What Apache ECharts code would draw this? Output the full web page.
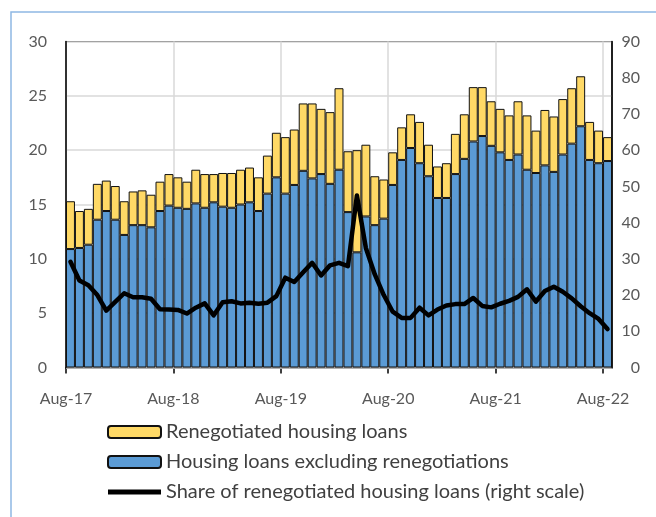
<!DOCTYPE html>
<html>
<head>
<meta charset="utf-8">
<script src="https://cdn.jsdelivr.net/npm/echarts@6/dist/echarts.min.js"></script>
<style>
  html, body { margin: 0; padding: 0; background: #fff; }
  #chart { width: 656px; height: 517px; }
</style>
</head>
<body>
<div id="chart"></div>
<script>
// months Aug-17 .. Aug-22
var months = [
  'Aug-17','Sep-17','Oct-17','Nov-17','Dec-17','Jan-18','Feb-18','Mar-18','Apr-18','May-18','Jun-18','Jul-18',
  'Aug-18','Sep-18','Oct-18','Nov-18','Dec-18','Jan-19','Feb-19','Mar-19','Apr-19','May-19','Jun-19','Jul-19',
  'Aug-19','Sep-19','Oct-19','Nov-19','Dec-19','Jan-20','Feb-20','Mar-20','Apr-20','May-20','Jun-20','Jul-20',
  'Aug-20','Sep-20','Oct-20','Nov-20','Dec-20','Jan-21','Feb-21','Mar-21','Apr-21','May-21','Jun-21','Jul-21',
  'Aug-21','Sep-21','Oct-21','Nov-21','Dec-21','Jan-22','Feb-22','Mar-22','Apr-22','May-22','Jun-22','Jul-22',
  'Aug-22'
];
var tickLabels = ['Aug-17','Aug-18','Aug-19','Aug-20','Aug-21','Aug-22'];

// housing loans excluding renegotiations (left scale)
var excl = [
  10.9, 11.0, 11.3, 13.6, 14.4, 13.6, 12.2, 13.1, 13.1, 12.9, 14.4, 14.9,
  14.7, 14.6, 15.1, 14.7, 15.2, 14.8, 14.7, 15.0, 15.2, 14.4, 16.0, 17.5,
  16.0, 16.8, 18.1, 17.4, 17.8, 16.9, 18.2, 14.3, 10.6, 13.9, 13.1, 13.7,
  16.8, 19.1, 20.2, 18.8, 17.6, 15.6, 15.6, 17.8, 19.2, 20.8, 21.3, 20.4,
  19.8, 19.1, 19.6, 18.2, 17.9, 18.6, 18.0, 19.6, 20.6, 22.2, 19.1, 18.8,
  19.0
];
// renegotiated housing loans (left scale)
var reneg = [
  4.4, 3.4, 3.3, 3.3, 2.8, 3.1, 3.1, 3.1, 3.2, 3.0, 2.7, 2.9,
  2.8, 2.5, 3.1, 3.1, 2.6, 3.1, 3.2, 3.2, 3.2, 3.1, 3.5, 4.1,
  5.2, 5.1, 6.2, 6.9, 6.0, 6.6, 7.5, 5.6, 9.4, 6.6, 4.5, 3.6,
  3.0, 3.0, 3.1, 3.8, 2.9, 2.9, 3.2, 3.7, 4.1, 5.0, 4.5, 4.1,
  4.0, 4.1, 4.9, 5.0, 3.9, 5.1, 5.1, 5.1, 5.1, 4.6, 3.5, 3.0,
  2.2
];
// share of renegotiated housing loans, % (right scale)
var share = [
  29.2, 24.0, 22.7, 20.0, 15.7, 18.1, 20.5, 19.4, 19.4, 19.0, 16.1, 16.0,
  15.9, 14.9, 16.5, 17.7, 14.4, 18.0, 18.3, 17.7, 17.9, 17.6, 17.9, 19.7,
  24.8, 23.6, 26.3, 28.9, 25.4, 28.2, 28.9, 28.0, 47.5, 33.0, 25.7, 20.0,
  15.4, 13.7, 13.7, 16.5, 14.4, 16.0, 17.1, 17.5, 17.5, 19.2, 17.0, 16.6,
  17.6, 18.4, 19.5, 21.6, 18.2, 21.1, 22.3, 20.9, 19.1, 16.9, 15.0, 13.4,
  10.6
];

var FONT = 'Lato, "Liberation Sans", sans-serif';
var myChart = echarts.init(document.getElementById('chart'));

var option = {
  backgroundColor: '#fff',
  animation: false,
  textStyle: { fontFamily: FONT },
  graphic: [{
    type: 'rect',
    shape: { x: 11, y: 12, width: 700, height: 600 },
    style: { fill: 'none', stroke: '#8fb8e4', lineWidth: 1.5 },
    silent: true
  }],
  grid: {
    left: 66, right: 44, top: 41.5, bottom: 149.5,
    show: true, borderColor: '#000', borderWidth: 1,
    backgroundColor: 'transparent'
  },
  legend: {
    orient: 'vertical',
    left: 102, top: 417,
    itemWidth: 53, itemHeight: 12, itemGap: 10,
    textStyle: { fontSize: 20, color: '#404040', fontFamily: FONT },
    data: [
      { name: 'Renegotiated housing loans' },
      { name: 'Housing loans excluding renegotiations' },
      { name: 'Share of renegotiated housing loans (right scale)',
        icon: 'path://M0,0 L53,0 L53,5 L0,5 Z' }
    ]
  },
  xAxis: [{
    type: 'category',
    data: months,
    boundaryGap: true,
    axisLine: { lineStyle: { color: '#000', width: 1.5 } },
    axisTick: { show: false },
    axisLabel: { show: false },
    splitLine: { show: false }
  }, {
    type: 'value',
    min: 0, max: 61, interval: 12,
    position: 'bottom',
    axisLine: { show: false },
    axisTick: { show: true, length: 6, customValues: [0, 12, 24, 36, 48, 60],
      lineStyle: { color: '#000', width: 1.5 } },
    axisLabel: {
      margin: 23, fontSize: 16, color: '#595959', fontFamily: FONT,
      customValues: [0, 12, 24, 36, 48, 60],
      formatter: function (v) { return v % 12 === 0 ? tickLabels[v / 12] : ''; }
    },
    splitLine: { show: true, lineStyle: { color: '#d9d9d9', width: 1.5 } }
  }],
  yAxis: [{
    type: 'value',
    min: 0, max: 30, interval: 5,
    z: 1,
    axisLine: { show: true, lineStyle: { color: '#000', width: 1.5 } },
    axisTick: { show: false },
    axisLabel: { margin: 19, fontSize: 16, color: '#595959', fontFamily: FONT },
    splitLine: { show: true, lineStyle: { color: '#d9d9d9', width: 1.5 } }
  }, {
    type: 'value',
    position: 'right',
    min: 0, max: 90, interval: 10,
    z: 1,
    axisLine: { show: true, lineStyle: { color: '#000', width: 1.5 } },
    axisTick: { show: false },
    axisLabel: { margin: 28, align: 'right', fontSize: 16, color: '#595959', fontFamily: FONT },
    splitLine: { show: false }
  }],
  series: [{
    name: 'Housing loans excluding renegotiations',
    type: 'bar',
    stack: 'loans',
    xAxisIndex: 0, yAxisIndex: 0,
    barCategoryGap: '0%',
    itemStyle: { color: '#5b9bd5', borderColor: '#111', borderWidth: 1 },
    data: excl
  }, {
    name: 'Renegotiated housing loans',
    type: 'bar',
    stack: 'loans',
    xAxisIndex: 0, yAxisIndex: 0,
    barCategoryGap: '0%',
    itemStyle: { color: '#ffd966', borderColor: '#111', borderWidth: 1 },
    data: reneg
  }, {
    name: 'Share of renegotiated housing loans (right scale)',
    type: 'line',
    xAxisIndex: 0, yAxisIndex: 1,
    symbol: 'none',
    z: 5,
    itemStyle: { color: '#000' },
    lineStyle: { color: '#000', width: 4.5, cap: 'round', join: 'round' },
    data: share
  }]
};
myChart.setOption(option);
</script>
</body>
</html>
